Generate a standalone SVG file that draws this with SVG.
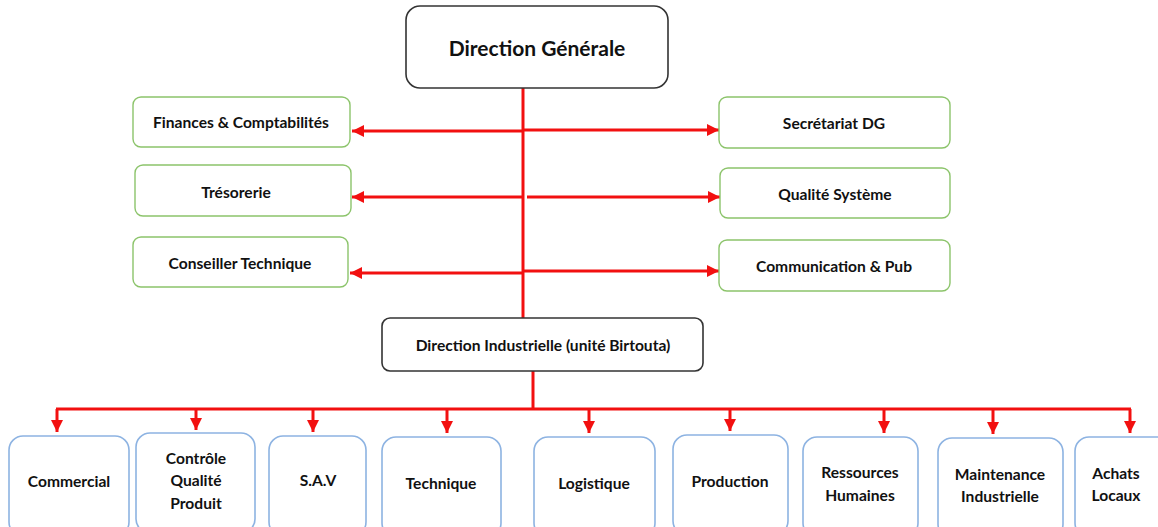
<svg xmlns="http://www.w3.org/2000/svg" width="1158" height="527" viewBox="0 0 1158 527">
  <style>
    .lbl { font-family: Lato, "Liberation Sans", sans-serif; font-weight: bold; fill: #111; text-anchor: middle; dominant-baseline: central; }
    .top { fill: #fff; stroke: #333; stroke-width: 1.6; }
    .side { fill: #fff; stroke: #8cc46b; stroke-width: 1.4; }
    .dept { fill: #fff; stroke: #8db3e2; stroke-width: 1.6; }
    .link { stroke: #f21010; stroke-width: 3; fill: none; }
    .s14 { font-size: 15.6px; }
  </style>
  <defs>
    <marker id="head" viewBox="0 0 10 10" refX="10" refY="5" markerWidth="4" markerHeight="4" orient="auto" markerUnits="strokeWidth">
      <path d="M0,0 L10,5 L0,10 z" fill="#f21010"/>
    </marker>
  </defs>
  <rect width="1158" height="527" fill="#fff"/>

  <!-- connectors -->
  <g id="connectors">
    <line class="link" x1="523" y1="88" x2="523" y2="318"/>
    <line class="link" x1="523" y1="131" x2="352" y2="131" marker-end="url(#head)"/>
    <line class="link" x1="523" y1="197" x2="352" y2="197" marker-end="url(#head)"/>
    <line class="link" x1="523" y1="273" x2="350" y2="273" marker-end="url(#head)"/>
    <line class="link" x1="523" y1="130" x2="719" y2="130" marker-end="url(#head)"/>
    <line class="link" x1="527" y1="197" x2="720" y2="197" marker-end="url(#head)"/>
    <line class="link" x1="523" y1="271" x2="719" y2="271" marker-end="url(#head)"/>
    <line class="link" x1="533" y1="371" x2="533" y2="409"/>
    <line class="link" x1="56" y1="409" x2="1131" y2="409"/>
    <line class="link" x1="57" y1="409" x2="57" y2="432" marker-end="url(#head)"/>
    <line class="link" x1="196" y1="409" x2="196" y2="430" marker-end="url(#head)"/>
    <line class="link" x1="313" y1="409" x2="313" y2="432" marker-end="url(#head)"/>
    <line class="link" x1="447" y1="409" x2="447" y2="433" marker-end="url(#head)"/>
    <line class="link" x1="589" y1="409" x2="589" y2="433" marker-end="url(#head)"/>
    <line class="link" x1="730" y1="409" x2="730" y2="431" marker-end="url(#head)"/>
    <line class="link" x1="884" y1="409" x2="884" y2="433" marker-end="url(#head)"/>
    <line class="link" x1="993" y1="409" x2="993" y2="434" marker-end="url(#head)"/>
    <line class="link" x1="1130" y1="409" x2="1130" y2="433" marker-end="url(#head)"/>
  </g>

  <!-- head office -->
  <g id="direction-generale">
    <rect class="top" x="406" y="6" width="262" height="82" rx="14"/>
    <text class="lbl" x="537" y="47" font-size="21">Direction Générale</text>
  </g>

  <!-- staff units, left -->
  <g id="finances">
    <rect class="side" x="133" y="97" width="217" height="50" rx="8"/>
    <text class="lbl s14" x="241" y="122">Finances &amp; Comptabilités</text>
  </g>
  <g id="tresorerie">
    <rect class="side" x="135" y="165" width="216" height="51" rx="8"/>
    <text class="lbl s14" x="236" y="192">Trésorerie</text>
  </g>
  <g id="conseiller">
    <rect class="side" x="133" y="237" width="215" height="50" rx="8"/>
    <text class="lbl s14" x="240" y="263">Conseiller Technique</text>
  </g>

  <!-- staff units, right -->
  <g id="secretariat">
    <rect class="side" x="719" y="97" width="231" height="51" rx="8"/>
    <text class="lbl s14" x="834" y="123">Secrétariat DG</text>
  </g>
  <g id="qualite-systeme">
    <rect class="side" x="720" y="168" width="230" height="50" rx="8"/>
    <text class="lbl s14" x="835" y="194">Qualité Système</text>
  </g>
  <g id="communication">
    <rect class="side" x="719" y="240" width="231" height="51" rx="8"/>
    <text class="lbl s14" x="834" y="266">Communication &amp; Pub</text>
  </g>

  <!-- industrial division -->
  <g id="direction-industrielle">
    <rect class="top" x="382" y="318" width="321" height="53" rx="8"/>
    <text class="lbl s14" x="543" y="345">Direction Industrielle (unité Birtouta)</text>
  </g>

  <!-- departments -->
  <g id="commercial">
    <rect class="dept" x="9" y="436" width="120" height="100" rx="14"/>
    <text class="lbl s14" x="69" y="481">Commercial</text>
  </g>
  <g id="controle-qualite">
    <rect class="dept" x="136" y="433" width="119" height="100" rx="14"/>
    <text class="lbl s14" x="196" y="458">Contrôle</text>
    <text class="lbl s14" x="196" y="480">Qualité</text>
    <text class="lbl s14" x="196" y="503">Produit</text>
  </g>
  <g id="sav">
    <rect class="dept" x="269" y="436" width="97" height="100" rx="14"/>
    <text class="lbl s14" x="318" y="480">S.A.V</text>
  </g>
  <g id="technique">
    <rect class="dept" x="382" y="437" width="119" height="100" rx="14"/>
    <text class="lbl s14" x="441" y="483">Technique</text>
  </g>
  <g id="logistique">
    <rect class="dept" x="534" y="437" width="121" height="100" rx="14"/>
    <text class="lbl s14" x="594" y="483">Logistique</text>
  </g>
  <g id="production">
    <rect class="dept" x="673" y="435" width="115" height="100" rx="14"/>
    <text class="lbl s14" x="730" y="481">Production</text>
  </g>
  <g id="ressources-humaines">
    <rect class="dept" x="803" y="437" width="115" height="100" rx="14"/>
    <text class="lbl s14" x="860" y="472">Ressources</text>
    <text class="lbl s14" x="860" y="495">Humaines</text>
  </g>
  <g id="maintenance">
    <rect class="dept" x="938" y="438" width="125" height="100" rx="14"/>
    <text class="lbl s14" x="1000" y="474">Maintenance</text>
    <text class="lbl s14" x="1000" y="496">Industrielle</text>
  </g>
  <g id="achats">
    <rect class="dept" x="1075" y="437" width="100" height="100" rx="14"/>
    <text class="lbl s14" x="1116" y="473">Achats</text>
    <text class="lbl s14" x="1116" y="495">Locaux</text>
  </g>
</svg>
